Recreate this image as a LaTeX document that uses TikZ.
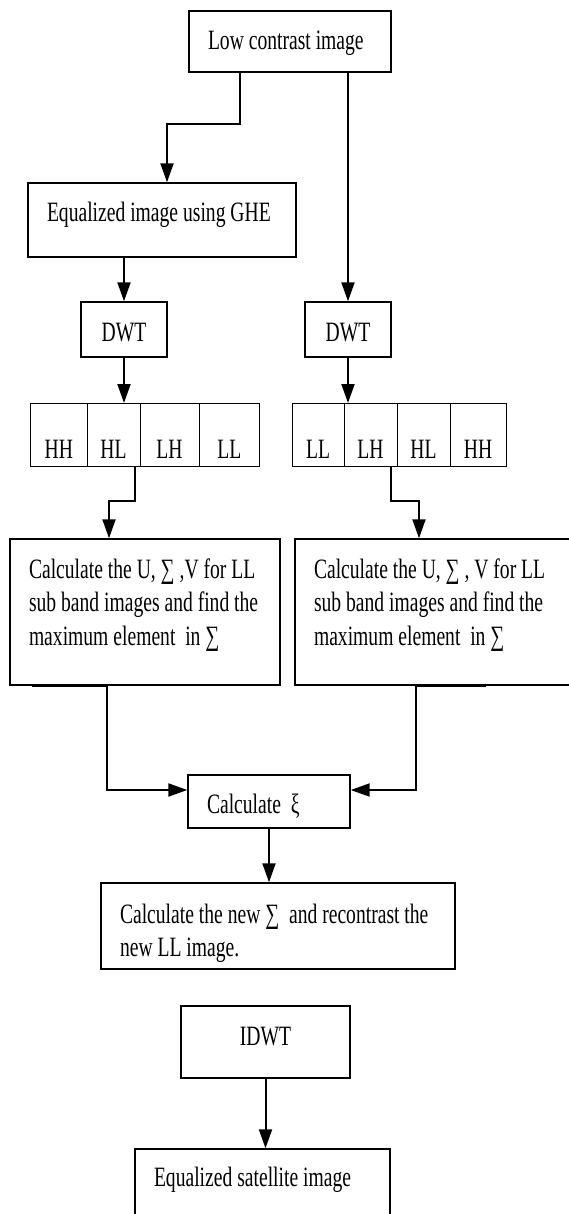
\documentclass[tikz,border=0pt]{standalone}
\usepackage{fontspec}
\setmainfont{Liberation Serif}[FakeStretch=0.7]
\usetikzlibrary{positioning,arrows.meta}
\hyphenpenalty=10000
\newcommand\boxfont{\fontsize{28}{33.5}\selectfont}

\begin{document}
\begin{tikzpicture}[x=1pt, y=-1pt,
        box/.style={draw, line width=1.4pt, inner xsep=19pt, inner ysep=0pt, align=flush left, font=\boxfont},
        cell/.style={draw, line width=0.9pt, inner sep=0pt, outer sep=0pt, text height=55pt, text depth=8pt, font=\boxfont},
        arr/.style={line width=2pt, -{Triangle[width=13pt,length=19pt]}}]
                    \useasboundingbox (0,0) rectangle (569,1214);

                    \node[box, text width=164pt, text height=39pt, text depth=22pt] (low) at (290,41.5) {\mbox{Low contrast image}};
                    \node[box, text width=230pt, text height=39pt, text depth=35pt] (equ) at (162,220) {\mbox{Equalized image using GHE}};

                    \node[box, align=center, text width=48pt, text height=39pt, text depth=16pt] (dwtl) at (124,329.5) {DWT};
                    \node[box, align=center, text width=48pt, text height=39pt, text depth=16pt] (dwtr) at (348,329.5) {DWT};

                    % sub bands
                    \node[cell, minimum width=56.4pt, anchor=north west] (hh1) at (30.6,403) {HH};
                    \node[cell, minimum width=53pt, right=0pt of hh1] (hl1) {HL};
                    \node[cell, minimum width=59pt, right=0pt of hl1] (lh1) {LH};
                    \node[cell, minimum width=60.5pt, right=0pt of lh1] (ll1) {LL};

                    \node[cell, minimum width=52pt, anchor=north west] (ll2) at (292,403) {LL};
                    \node[cell, minimum width=53pt, right=0pt of ll2] (lh2) {LH};
                    \node[cell, minimum width=53pt, right=0pt of lh2] (hl2) {HL};
                    \node[cell, minimum width=56pt, right=0pt of hl2] (hh2) {HH};

                    \node[box, text width=232pt, text height=39pt, text depth=107pt] (svdl) at (145,612)
                        {\mbox{Calculate the U, ∑ ,V for LL}\\\mbox{sub band images and find the}\\\mbox{maximum element\ \ in ∑}};
                    \node[box, text width=242pt, text height=39pt, text depth=107pt] (svdr) at (435,612)
                        {\mbox{Calculate the U, ∑ , V for LL}\\\mbox{sub band images and find the}\\\mbox{maximum element\ \ in ∑}};

                    \node[box, text width=124pt, text height=38pt, text depth=15pt] (xi) at (269,801.5) {\mbox{Calculate\ \ ξ}};
                    \node[box, text width=316pt, text height=40pt, text depth=46pt] (newS) at (278,926)
                        {\mbox{Calculate the new ∑\ \ and recontrast the}\\\mbox{new LL image.}};

                    \node[box, align=center, text width=131pt, text height=39pt, text depth=33pt] (idwt) at (265.5,1042) {IDWT};
                    \node[box, text width=217pt, text height=37pt, text depth=60pt] (final) at (262.5,1197.5) {\mbox{Equalized satellite image}};

                    \draw[arr] ([xshift=-50pt]low.south) -- ++(0,51) -| ([xshift=5pt]equ.north);
                    \draw[arr] (low.south -| dwtr.north) -- (dwtr.north);
                    \draw[arr] (equ.south -| dwtl.north) -- (dwtl.north);

                    \draw[arr] (dwtl.south) -- (dwtl.south |- hl1.north);
                    \draw[arr] (dwtr.south) -- (dwtr.south |- lh2.north);

                    \draw[arr] ([xshift=-5pt]hl1.south east) -- ++(0,34.7) -| ([xshift=-36pt]svdl.north);
                    \draw[arr] ([xshift=-6pt]lh2.south east) -- ++(0,34.7) -| ([xshift=-16pt]svdr.north);

                    \draw[arr] ([xshift=23pt]svdl.south west) -- ([xshift=-38pt]svdl.south) |- ([yshift=11.5pt]xi.west);
                    \draw[arr] ([xshift=192pt]svdr.south west) -- ([xshift=-19pt]svdr.south) |- ([yshift=11.5pt]xi.east);

                    \draw[arr] (xi.south) -- (xi.south |- newS.north);
                    \draw[arr] (idwt.south) -- (idwt.south |- final.north);

                \end{tikzpicture}
\end{document}
